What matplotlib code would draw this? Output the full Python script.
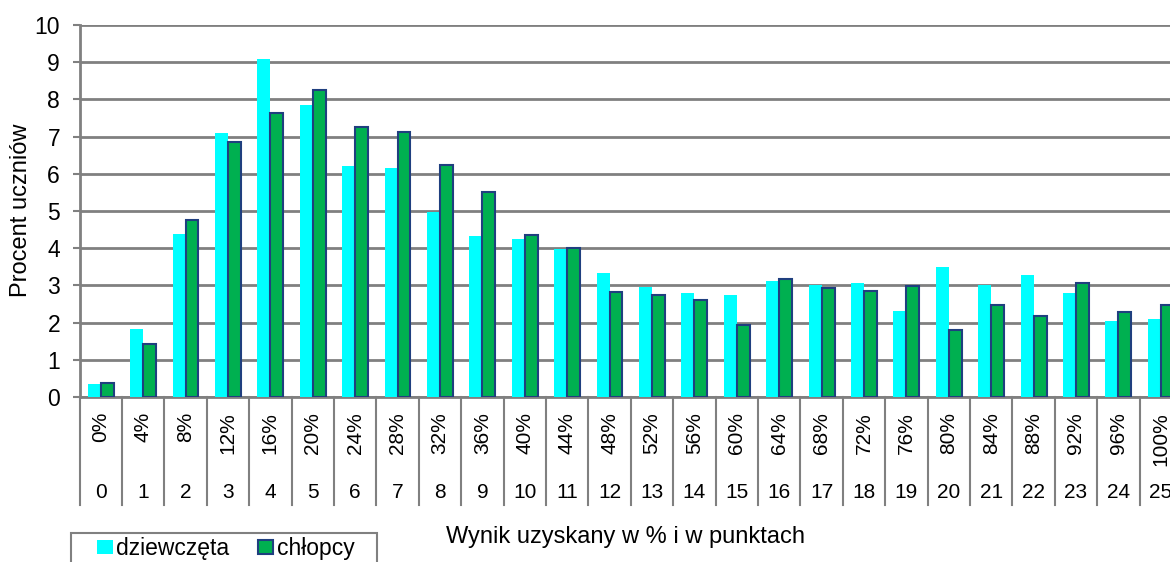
import matplotlib.pyplot as plt
from matplotlib.patches import Rectangle
import numpy as np

plt.rcParams['font.family'] = ['Liberation Sans', 'DejaVu Sans']

punkty = list(range(26))
procenty = [f'{4 * p}%' for p in punkty]
dziewczeta = [0.35, 1.83, 4.39, 7.11, 9.08, 7.86, 6.21, 6.15, 4.98, 4.34, 4.24, 3.98, 3.32,
              2.95, 2.80, 2.74, 3.12, 3.00, 3.06, 2.32, 3.49, 3.01, 3.27, 2.80, 2.05, 2.10]
chlopcy = [0.38, 1.42, 4.77, 6.85, 7.63, 8.25, 7.26, 7.12, 6.24, 5.52, 4.35, 4.01, 2.83,
           2.74, 2.60, 1.94, 3.17, 2.93, 2.84, 2.99, 1.80, 2.47, 2.19, 3.07, 2.28, 2.48]

W, H = 1170, 562
fig = plt.figure(figsize=(W / 100, H / 100), dpi=100)
# plot area runs a little past the right edge, as in the original
ax = fig.add_axes([79.5 / W, (H - 397) / H, 1102.5 / W, 372 / H])

x = np.arange(len(punkty))
bw = 0.305
ax.bar(x - bw / 2, dziewczeta, bw, color='#00FFFF', label='dziewczęta', zorder=3)
ax.bar(x + bw / 2, chlopcy, bw, color='#00B050', edgecolor='#1F3F7F', linewidth=1.5,
       label='chłopcy', zorder=3)

ax.set_xlim(-0.5, len(punkty) - 0.5)
ax.set_ylim(0, 10)
ax.set_yticks(range(0, 11))
ax.tick_params(axis='y', labelsize=16.5, color='#808080', length=5, width=1.5, pad=9)
ax.set_xticks([])
ax.yaxis.grid(True, color='#808080', linewidth=2, zorder=0)
for s in ['top', 'right']:
    ax.spines[s].set_visible(False)
for s in ['left', 'bottom']:
    ax.spines[s].set_color('#808080')
    ax.spines[s].set_linewidth(2)

# category table under the axis
trans = ax.get_xaxis_transform()
for b in np.arange(-0.5, len(punkty), 1.0):
    ax.plot([b, b], [0, -0.29], transform=trans, color='#808080', linewidth=1.5,
            clip_on=False)
for i in x:
    ax.text(i, -0.04, procenty[i], transform=trans, rotation=90, ha='center', va='top',
            fontsize=15)
    ax.text(i, -0.258, str(punkty[i]), transform=trans, ha='center', va='center', fontsize=15)

fig.text(21 / W, 1 - 210 / H, 'Procent uczniów', rotation=90, ha='center', va='center',
         fontsize=17)
fig.text(626 / W, 1 - 537 / H, 'Wynik uzyskany w % i w punktach', ha='center', va='center',
         fontsize=17)

# legend box (cut off by the bottom edge like the original)
fig.patches.append(Rectangle((71 / W, -0.05), (377 - 71) / W, 0.05 + (H - 533) / H,
                             transform=fig.transFigure, fill=False, edgecolor='#808080',
                             linewidth=1.5))
fig.legend(loc='center left', bbox_to_anchor=(97 / W, 1 - 549 / H), ncol=2,
           fontsize=16.5, frameon=False, handlelength=0.68, handleheight=0.55,
           handletextpad=0.15, columnspacing=1.25, borderpad=0, borderaxespad=0)

fig.savefig('out.png', dpi=100)
